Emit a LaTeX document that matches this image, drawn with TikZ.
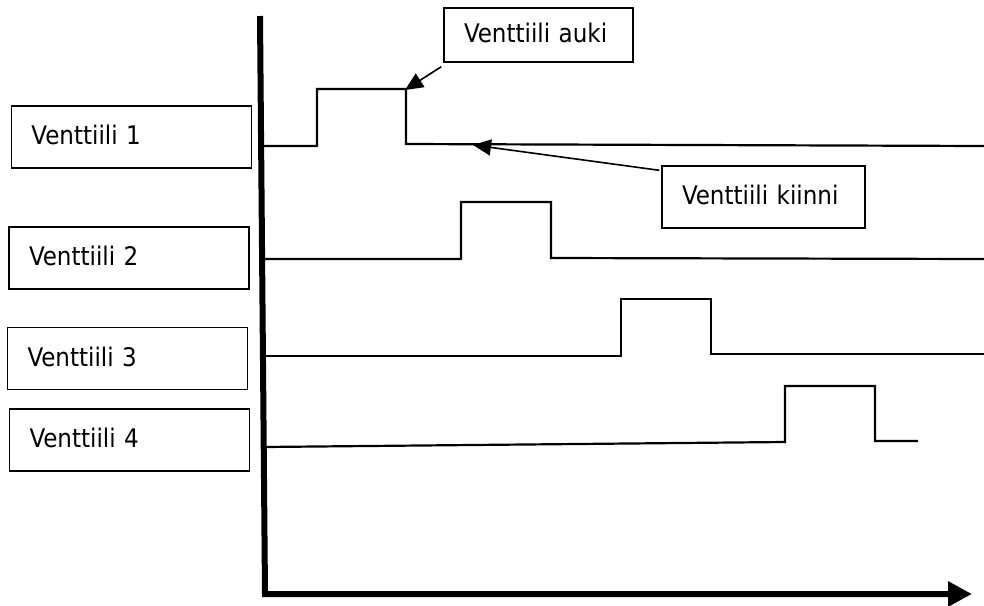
\documentclass[tikz,border=0pt]{standalone}
\usepackage{fontspec}
\setmainfont{DejaVu Sans Condensed}
\usetikzlibrary{arrows.meta}

\begin{document}
\begin{tikzpicture}[x=0.5pt,y=-0.5pt,
        valve/.style={draw,line width=0.7pt,inner xsep=10pt,text width=100pt,
            minimum height=31pt,align=left,text depth=2pt,font=\fontsize{12.8}{15}\selectfont},
        note/.style={draw,line width=0.7pt,inner xsep=10pt,
            minimum height=31pt,align=left,text depth=2pt,font=\fontsize{12.8}{15}\selectfont},
        signal/.style={line width=1.1pt},
        pointer/.style={line width=0.8pt,-{Triangle[length=9pt,width=8pt]}}]
        \useasboundingbox (0,0) rectangle (984,605);

        % Axes
        \draw[line width=3pt,-{Triangle[length=12pt,width=12pt]}] (260,16) -- (265,594) -- (972,594);

        % Valve labels
        \node[valve] (v1) at (131.5,137) {Venttiili 1};
        \node[valve] (v2) at (129,258) {Venttiili 2};
        \node[valve] (v3) at (127.5,358.5) {Venttiili 3};
        \node[valve] (v4) at (129.5,440) {Venttiili 4};

        % Signals
        \draw[signal] (264,146) -- (317,146) -- (317,89) -- (406,89) -- (406,144) -- (984,146);
        \draw[signal] (264,259) -- (461,259) -- (461,202) -- (551,202) -- (551,258) -- (984,259);
        \draw[signal] (264,356) -- (621,356) -- (621,299) -- (711,299) -- (711,354) -- (984,354);
        \draw[signal] (264,447) -- (785,442) -- (785,386) -- (875,386) -- (875,441) -- (918,441);

        % Open / closed
        \node[note,text width=74.5pt,minimum height=27pt] (auki) at (538.5,35) {Venttiili auki};
        \node[note,text width=81.5pt] (kiinni) at (763.5,197) {Venttiili kiinni};
        \coordinate (auki tip) at (405,90);
        \coordinate (kiinni tip) at (473,145);
        \draw[pointer] ([xshift=-1pt,yshift=-2pt]auki.south west) -- (auki tip);
        \draw[pointer] ([xshift=-1pt,yshift=-2.5pt]kiinni.north west) -- (kiinni tip);
\end{tikzpicture}
\end{document}
